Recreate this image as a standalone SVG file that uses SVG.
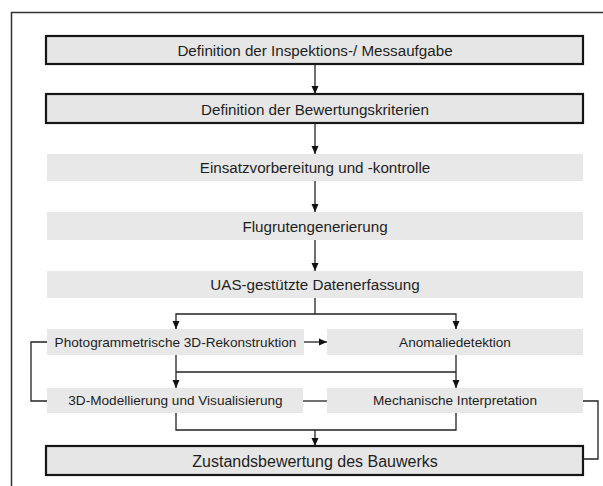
<svg xmlns="http://www.w3.org/2000/svg" width="603" height="486" viewBox="0 0 603 486">
<defs>
<marker id="ah" viewBox="0 0 8 8" refX="8" refY="4" markerWidth="8" markerHeight="8" markerUnits="userSpaceOnUse" orient="auto">
<path d="M0,0.5 L8,4 L0,7.5 z" fill="#111"/>
</marker>
<style>
.frame{fill:none;stroke:#333;stroke-width:1.5}
.main{fill:#e6e6e6;stroke:#151515;stroke-width:2.2}
.step{fill:#e8e8e8;stroke:none}
.t{font-family:"Liberation Sans",Arial,sans-serif;font-size:15.2px;fill:#1e1e1e;text-anchor:middle}
.s{font-size:13.6px}
.b{font-size:16px}
.c{fill:none;stroke:#222;stroke-width:1.3}
.ca{fill:none;stroke:#222;stroke-width:1.3;marker-end:url(#ah)}
</style>
</defs>
<rect width="603" height="486" fill="#fff"/>
<path class="frame" d="M11.5,486 V12.5 H603"/>
<g id="n1"><rect class="main" x="46" y="36" width="537" height="28"/><text class="t" x="315" y="55.5">Definition der Inspektions-/ Messaufgabe</text></g>
<g id="n2"><rect class="main" x="46" y="94" width="537" height="29"/><text class="t" x="315" y="114.5">Definition der Bewertungskriterien</text></g>
<g id="n3"><rect class="step" x="47" y="154" width="536" height="27"/><text class="t" x="315" y="172.5">Einsatzvorbereitung und -kontrolle</text></g>
<g id="n4"><rect class="step" x="47" y="212" width="536" height="28"/><text class="t" x="315" y="231.5">Flugrutengenerierung</text></g>
<g id="n5"><rect class="step" x="47" y="271" width="536" height="27"/><text class="t" x="315" y="289.5">UAS-gestützte Datenerfassung</text></g>
<g id="n6"><rect class="step" x="47" y="329" width="257" height="26"/><text class="t s" x="175.5" y="346.8">Photogrammetrische 3D-Rekonstruktion</text></g>
<g id="n7"><rect class="step" x="327" y="329" width="256" height="26"/><text class="t s" x="455" y="346.8">Anomaliedetektion</text></g>
<g id="n8"><rect class="step" x="47" y="388" width="256" height="25"/><text class="t s" x="175.5" y="405.3">3D-Modellierung und Visualisierung</text></g>
<g id="n9"><rect class="step" x="327" y="388" width="256" height="25"/><text class="t s" x="455" y="405.3">Mechanische Interpretation</text></g>
<g id="n10"><rect class="main" x="46" y="446" width="537" height="29"/><text class="t b" x="315" y="467">Zustandsbewertung des Bauwerks</text></g>
<g id="connectors">
<path class="ca" d="M315,64 V94"/>
<path class="ca" d="M315,123 V154"/>
<path class="ca" d="M315,181 V212"/>
<path class="ca" d="M315,240 V271"/>
<path class="c" d="M315,298 V314"/>
<path class="ca" d="M315,314 H176 V329"/>
<path class="ca" d="M315,314 H456 V329"/>
<path class="ca" d="M304,342 H327"/>
<path class="ca" d="M176,355 V388"/>
<path class="ca" d="M456,355 V388"/>
<path class="c" d="M176,372 H456"/>
<path class="c" d="M303,401 H327"/>
<path class="c" d="M47,342 H31 V401 H47"/>
<path class="c" d="M583,401 H598 V459 H583"/>
<path class="c" d="M176,413 V430 H456 V413"/>
<path class="ca" d="M315,430 V446"/>
</g>
</svg>
